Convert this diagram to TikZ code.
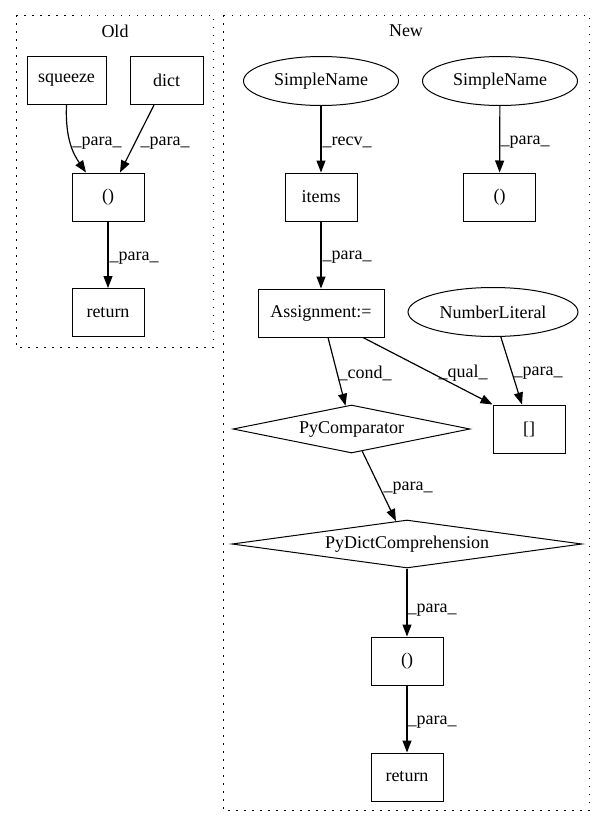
\documentclass[tikz,border=0pt]{standalone}
\usepackage{fontspec}
\setmainfont{Liberation Serif}
\usetikzlibrary{arrows.meta,shapes.geometric}
\begin{document}
\begin{tikzpicture}[x=1pt,y=-1pt,
  every node/.style={font=\fontsize{18}{20}\selectfont},
  box/.style={draw,rectangle,line width=1pt,inner sep=0pt,minimum width=72pt,minimum height=48pt},
  ell/.style={draw,ellipse,line width=1pt,inner sep=0pt,minimum height=49pt},
  diam/.style={draw,diamond,line width=1pt,inner sep=0pt,minimum height=48pt},
  cluster/.style={draw,line width=1pt,dash pattern=on 1.5pt off 6.5pt},
  edge/.style={draw,line width=1.2pt,-{Triangle[length=12pt,width=9pt]}},
  lab/.style={anchor=west,inner sep=0pt}]
\useasboundingbox (0,0) rectangle (605,828);
% clusters
\draw[cluster] (16,15) rectangle (213,347);
\draw[cluster] (223,15) rectangle (589,810);
\node (oldt) at (115,31) {Old};
\node (newt) at (406,31) {New};
% Old
\node[box,minimum width=79pt] (sq) at (66.5,80.5) {squeeze};
\node[box,minimum width=73pt] (dict) at (166.5,80.5) {dict};
\node[box] (p1) at (108,197) {()};
\node[box] (ret1) at (108,312.5) {return};
\draw[edge] (sq.south) .. controls (65,140) and (74,155) .. (p1.north -| 86,0)
  node[lab] at (72,143) {\_para\_};
\draw[edge] (dict.south -| 154,0) -- (p1.north -| 120,0)
  node[lab] at (140,143) {\_para\_};
\draw[edge] (p1) -- (ret1) node[lab] at (109,258) {\_para\_};
% New
\node[ell,minimum width=155pt] (sn1) at (321,81) {SimpleName};
\node[ell,minimum width=155pt] (sn2) at (500,81) {SimpleName};
\node[box] (items) at (321,197) {items};
\node[box] (p2) at (499.5,197) {()};
\node[box,minimum width=126pt] (asg) at (321,313) {Assignment:=};
\node[ell,minimum width=170pt] (nl) at (493,312) {NumberLiteral};
\node[box] (br) at (529,429) {[]};
\node[diam,minimum width=237pt,aspect=4.9] (pc) at (351.5,429) {PyComparator};
\node[diam,minimum width=350pt,aspect=7.3] (pdc) at (407,544) {PyDictComprehension};
\node[box] (p3) at (407,661) {()};
\node[box] (ret2) at (407,777) {return};
\draw[edge] (sn1) -- (items) node[lab] at (322,142) {\_recv\_};
\draw[edge] (sn2) -- (p2) node[lab] at (500,142) {\_para\_};
\draw[edge] (items) -- (asg) node[lab] at (322,257) {\_para\_};
\draw[edge] (asg.south -| 328,0) -- (pc) node[lab] at (338,373) {\_cond\_};
\draw[edge] (asg.south -| 363,0) -- (br.north west) node[lab] at (438,373) {\_qual\_};
\draw[edge] (nl) -- (br.north -| 522,0) node[lab] at (513,373) {\_para\_};
\draw[edge] (pc) -- (pdc) node[lab] at (383,488) {\_para\_};
\draw[edge] (pdc) -- (p3) node[lab] at (407,610) {\_para\_};
\draw[edge] (p3) -- (ret2) node[lab] at (407,722) {\_para\_};
\end{tikzpicture}
\end{document}
